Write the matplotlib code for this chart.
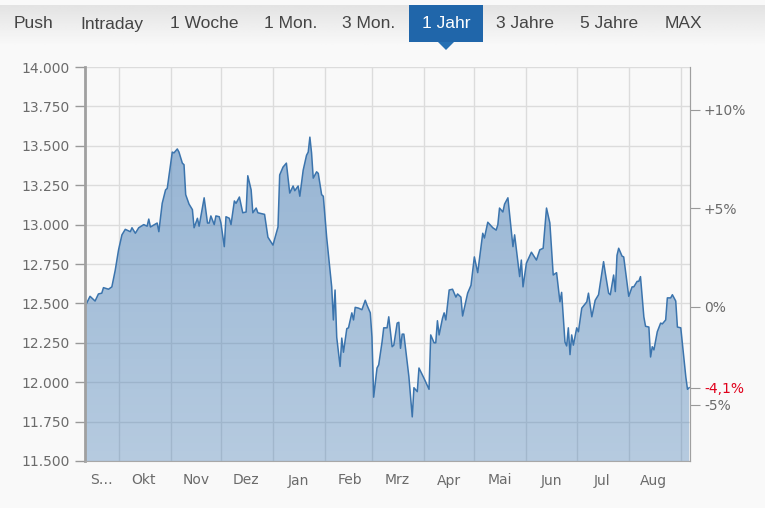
import numpy as np
import pandas as pd
import matplotlib
matplotlib.use("Agg")
import matplotlib.pyplot as plt
import matplotlib.dates as mdates
from matplotlib.patches import Rectangle, Polygon
from matplotlib.ticker import FuncFormatter, FixedLocator

# Kursdaten (Tage ab 01.10.2016, Schlusskurs)
day_offsets = [
    -20, -17, -14, -12, -10, -9, -6, -4, -2, 0, 2, 4, 7, 8, 10, 12, 15, 17, 18, 19,
    23, 24, 26, 28, 29, 32, 33, 35, 36, 38, 39, 40, 42, 44, 45, 47, 48, 51, 53, 54,
    55, 57, 58, 60, 61, 63, 64, 66, 67, 69, 70, 72, 74, 76, 77, 79, 80, 82, 83, 87,
    89, 92, 95, 96, 98, 100, 102, 104, 105, 107, 108, 110, 112, 113, 114, 115, 116, 118, 119, 121,
    122, 124, 126, 127, 128, 129, 130, 132, 133, 134, 136, 137, 139, 140, 141, 143, 145, 147, 148, 150,
    151, 152, 154, 155, 157, 158, 160, 161, 163, 164, 166, 167, 168, 169, 170, 173, 175, 176, 178, 179,
    182, 185, 186, 188, 189, 190, 191, 193, 194, 195, 197, 199, 201, 202, 204, 205, 208, 210, 212, 214,
    217, 218, 220, 223, 225, 226, 227, 229, 230, 232, 235, 236, 239, 240, 241, 243, 246, 249, 251, 253,
    255, 257, 259, 261, 263, 264, 266, 267, 268, 269, 270, 271, 273, 274, 276, 279, 280, 282, 284, 286,
    289, 290, 292, 293, 295, 296, 297, 298, 300, 301, 304, 306, 307, 309, 310, 311, 313, 314, 316, 317,
    318, 319, 321, 323, 324, 326, 327, 329, 330, 332, 333, 335, 338, 339, 340,
]
prices = [
    12480, 12545, 12515, 12560, 12565, 12600, 12590, 12605, 12710, 12840, 12935, 12970, 12955, 12980, 12945, 12980, 13000, 12990, 13035, 12985,
    13010, 12955, 13135, 13220, 13230, 13460, 13455, 13480, 13460, 13390, 13380, 13190, 13130, 13095, 12980, 13040, 12990, 13170, 13010, 13010,
    13055, 13000, 13055, 13050, 13010, 12860, 13050, 13040, 13000, 13150, 13135, 13175, 13075, 13080, 13310, 13220, 13075, 13105, 13075, 13065,
    12920, 12870, 12985, 13315, 13365, 13390, 13200, 13245, 13215, 13245, 13180, 13345, 13440, 13460, 13555, 13455, 13295, 13335, 13325, 13190,
    13180, 12920, 12710, 12605, 12395, 12585, 12285, 12100, 12280, 12190, 12340, 12345, 12440, 12395, 12475, 12470, 12460, 12520, 12490, 12440,
    12285, 11905, 12090, 12110, 12255, 12345, 12345, 12415, 12225, 12235, 12375, 12380, 12215, 12305, 12305, 12035, 11780, 11965, 11940, 12090,
    12025, 11955, 12300, 12250, 12250, 12390, 12300, 12405, 12440, 12395, 12585, 12590, 12540, 12560, 12540, 12420, 12565, 12615, 12795, 12695,
    12945, 12915, 13015, 12980, 12965, 13000, 13105, 13080, 13130, 13170, 12860, 12935, 12670, 12775, 12605, 12755, 12825, 12775, 12840, 12850,
    13105, 13010, 12680, 12695, 12510, 12570, 12255, 12230, 12345, 12175, 12300, 12235, 12345, 12320, 12470, 12510, 12565, 12415, 12520, 12555,
    12765, 12695, 12565, 12555, 12680, 12575, 12805, 12850, 12800, 12795, 12545, 12605, 12605, 12640, 12640, 12670, 12415, 12355, 12350, 12160,
    12225, 12205, 12320, 12375, 12370, 12395, 12535, 12535, 12555, 12515, 12350, 12345, 12035, 11955, 11965,
]

y_ticks = [11500, 11750, 12000, 12250, 12500, 12750, 13000, 13250, 13500, 13750, 14000]
pct_ticks = [-5, 0, 5, 10]
pct_labels = ["-5%", "0%", "+5%", "+10%"]
month_labels = ["S…", "Okt", "Nov", "Dez", "Jan", "Feb", "Mrz", "Apr", "Mai", "Jun", "Jul", "Aug"]
nav_items = ["Push", "Intraday", "1 Woche", "1 Mon.", "3 Mon.", "1 Jahr", "3 Jahre", "5 Jahre", "MAX"]
nav_x = [34, 112, 204, 291, 369, 446, 525, 609, 683]
selected = "1 Jahr"

dates = pd.Timestamp("2016-10-01") + pd.to_timedelta(day_offsets, unit="D")

W, H = 765, 508
fig = plt.figure(figsize=(W / 100, H / 100), dpi=100, facecolor="#f9f9f9")

# Plotbereich
ax = fig.add_axes([85 / W, (H - 461) / H, 605 / W, (461 - 67) / H])
ax.set_facecolor("#f9f9f9")
ax.set_axisbelow(True)

xnum = mdates.date2num(dates)
poly = ax.fill_between(dates, prices, 11500, facecolor="none", edgecolor="none")
grad = np.zeros((256, 1, 4))
grad[:, 0, :3] = [0.24, 0.47, 0.70]
grad[:, 0, 3] = np.linspace(0.56, 0.36, 256)
im = ax.imshow(grad, extent=[xnum[0], xnum[-1], 11500, 14000], aspect="auto", zorder=1)
im.set_clip_path(poly.get_paths()[0], transform=ax.transData)
ax.plot(dates, prices, color="#3b74ad", lw=1.1, zorder=2)

ax.set_xlim(dates[0], dates[-1] + pd.Timedelta(hours=12))
ax.set_ylim(11500, 14000)

ax.xaxis.set_major_locator(mdates.MonthLocator())
ax.xaxis.set_major_formatter(FuncFormatter(lambda v, p: ""))
label_pos = [mdates.date2num(dates[0] + (pd.Timestamp("2016-10-01") - dates[0]) / 2)]
for m in range(10, 22):
    y = 2016 + (m - 1) // 12
    mm = (m - 1) % 12 + 1
    if mm == 9:
        continue
    label_pos.append(mdates.date2num(pd.Timestamp(y, mm, 16)))
ax.xaxis.set_minor_locator(FixedLocator(label_pos))
ax.xaxis.set_minor_formatter(FuncFormatter(lambda v, p: month_labels[p] if p is not None and p < len(month_labels) else ""))
ax.tick_params(axis="x", which="both", length=0, pad=9, labelsize=10, labelcolor="#6b6b6b")

ax.set_yticks(y_ticks)
ax.set_yticklabels([f"{v:,}".replace(",", ".") for v in y_ticks])
ax.tick_params(axis="y", length=7, width=1, color="#999999", pad=4, labelsize=10, labelcolor="#6b6b6b")

ax.grid(True, which="major", color="#dcdcdc", lw=1)
ax.spines["top"].set_visible(False)
ax.spines["left"].set_color("#a0a0a0")
ax.spines["left"].set_linewidth(2)
ax.spines["bottom"].set_color("#a8a8a8")
ax.spines["right"].set_color("#a0a0a0")

# Prozentachse rechts
base = prices[0]
ax2 = ax.twinx()
ax2.set_ylim(11500, 14000)
last_pct = (prices[-1] / base - 1) * 100
r_pos = [base * (1 + p / 100) for p in pct_ticks] + [prices[-1]]
r_lab = pct_labels + [f"{last_pct:.1f}%".replace(".", ",")]
ax2.set_yticks(r_pos)
ax2.set_yticklabels(r_lab)
ax2.tick_params(axis="y", length=7, color="#999999", pad=3, labelsize=10, labelcolor="#6b6b6b")
ax2.get_yticklabels()[-1].set_color("#e0001b")
for s in ["top", "left", "bottom"]:
    ax2.spines[s].set_visible(False)
ax2.spines["right"].set_color("#a0a0a0")

# Navigationsleiste
nav = fig.add_axes([0, 1 - 45 / H, 1, 40 / H])
ng = np.linspace(0.89, 0.975, 64).reshape(-1, 1)
nav.imshow(np.repeat(ng, 2, axis=1), cmap="gray", vmin=0, vmax=1, extent=[0, W, 45, 5], aspect="auto")
nav.set_xlim(0, W)
nav.set_ylim(45, 5)
nav.axis("off")
nav.add_patch(Rectangle((409, 5), 74, 37, facecolor="#2066aa", edgecolor="none"))
for name, x in zip(nav_items, nav_x):
    col = "white" if name == selected else "#444444"
    nav.text(x, 24, name, ha="center", va="center", fontsize=12.5, color=col,
             family="Liberation Sans")
fig.patches.append(Polygon([[438 / W, 1 - 42 / H], [454 / W, 1 - 42 / H], [446 / W, 1 - 50 / H]],
                           closed=True, facecolor="#2570b3", edgecolor="none", transform=fig.transFigure))

plt.savefig("out.png", dpi=100, facecolor=fig.get_facecolor())
